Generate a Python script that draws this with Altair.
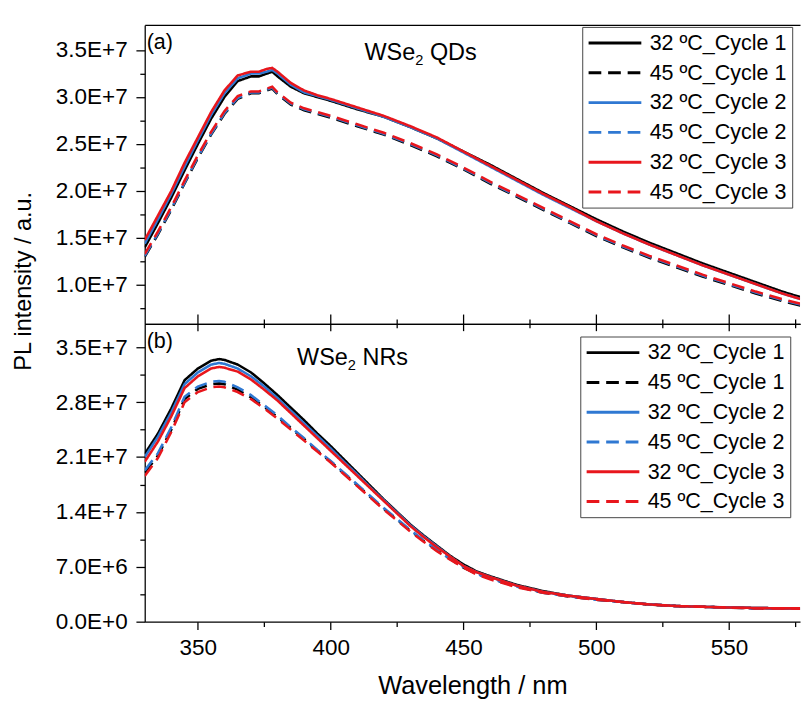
import altair as alt
import pandas as pd

FONT = "Liberation Sans"

# ---------------- data ----------------
series_names = ["32 ºC_Cycle 1", "45 ºC_Cycle 1", "32 ºC_Cycle 2",
                "45 ºC_Cycle 2", "32 ºC_Cycle 3", "45 ºC_Cycle 3"]
series_colors = ["#000000", "#000000", "#2f78d2", "#2f78d2", "#e8161c", "#e8161c"]
series_dashes = [[1, 0], [13, 7], [1, 0], [13, 7], [1, 0], [13, 7]]

panel_labels = ["(a)", "(b)"]
sample_names = [("WSe", "2", "QDs"), ("WSe", "2", "NRs")]
x_title = "Wavelength / nm"
y_title = "PL intensity / a.u."

x_ticks = [350, 375, 400, 425, 450, 475, 500, 525, 550, 575]
x_domain = [330, 576.7]

qd_y_domain = [5.87e6, 3.767e7]
qd_y_ticks = [7.5e6, 1.0e7, 1.25e7, 1.5e7, 1.75e7, 2.0e7, 2.25e7, 2.5e7,
              2.75e7, 3.0e7, 3.25e7, 3.5e7]
nr_y_domain = [0, 3.8e7]
nr_y_ticks = [0, 3.5e6, 7.0e6, 1.05e7, 1.4e7, 1.75e7, 2.1e7, 2.45e7,
              2.8e7, 3.15e7, 3.5e7]

# (a) WSe2 QDs, intensity in units of 1E7
qd_wl = [330, 335, 340, 345, 350, 355, 360, 365, 370, 373, 376, 378, 380, 385,
         390, 395, 400, 410, 420, 430, 440, 450, 460, 470, 480, 490, 500, 510,
         520, 530, 540, 550, 560, 570, 577]
qd_32_c1 = [1.40, 1.66, 1.93, 2.22, 2.50, 2.77, 3.00, 3.17, 3.22, 3.22, 3.25, 3.27, 3.22, 3.11,
            3.04, 3.00, 2.96, 2.87, 2.79, 2.68, 2.56, 2.42, 2.28, 2.13, 1.98, 1.84, 1.70, 1.57,
            1.45, 1.34, 1.23, 1.13, 1.03, 0.93, 0.87]
qd_45_c1 = [1.30, 1.54, 1.80, 2.08, 2.35, 2.60, 2.82, 2.98, 3.04, 3.04, 3.07, 3.09, 3.03, 2.92,
            2.86, 2.82, 2.78, 2.69, 2.60, 2.49, 2.37, 2.23, 2.08, 1.94, 1.80, 1.66, 1.52, 1.40,
            1.29, 1.19, 1.09, 1.00, 0.91, 0.83, 0.78]
qd_32_c2 = [1.44, 1.70, 1.97, 2.26, 2.54, 2.81, 3.04, 3.20, 3.25, 3.25, 3.27, 3.29, 3.25, 3.13,
            3.05, 3.01, 2.97, 2.88, 2.79, 2.68, 2.56, 2.41, 2.26, 2.11, 1.96, 1.82, 1.68, 1.55,
            1.43, 1.32, 1.21, 1.11, 1.01, 0.91, 0.85]
qd_45_c2 = [1.31, 1.55, 1.81, 2.09, 2.36, 2.61, 2.83, 2.99, 3.05, 3.05, 3.08, 3.10, 3.04, 2.93,
            2.87, 2.83, 2.79, 2.70, 2.61, 2.50, 2.38, 2.24, 2.09, 1.95, 1.81, 1.67, 1.53, 1.41,
            1.30, 1.20, 1.10, 1.01, 0.92, 0.84, 0.79]
qd_32_c3 = [1.48, 1.74, 2.00, 2.30, 2.57, 2.84, 3.07, 3.23, 3.27, 3.27, 3.30, 3.31, 3.27, 3.15,
            3.07, 3.02, 2.98, 2.89, 2.80, 2.69, 2.57, 2.42, 2.27, 2.12, 1.97, 1.83, 1.68, 1.55,
            1.43, 1.32, 1.21, 1.11, 1.01, 0.91, 0.85]
qd_45_c3 = [1.33, 1.57, 1.83, 2.11, 2.38, 2.63, 2.85, 3.01, 3.06, 3.06, 3.09, 3.11, 3.05, 2.94,
            2.88, 2.84, 2.80, 2.71, 2.62, 2.51, 2.39, 2.25, 2.10, 1.96, 1.82, 1.68, 1.54, 1.42,
            1.31, 1.21, 1.11, 1.02, 0.93, 0.85, 0.80]

# (b) WSe2 NRs, intensity in units of 1E7
nr_wl = [330, 335, 340, 345, 350, 355, 358, 360, 365, 370, 375, 380, 385, 390, 395, 400,
         405, 410, 415, 420, 425, 430, 435, 440, 445, 450, 455, 460, 470, 480, 490, 500,
         510, 520, 530, 540, 550, 560, 570, 577]
nr_32_c1 = [2.14, 2.40, 2.72, 3.08, 3.23, 3.33, 3.35, 3.34, 3.28, 3.18, 3.04, 2.89, 2.73, 2.57,
            2.40, 2.24, 2.07, 1.90, 1.73, 1.56, 1.40, 1.24, 1.10, 0.97, 0.84, 0.73, 0.64, 0.58,
            0.47, 0.39, 0.33, 0.29, 0.25, 0.22, 0.20, 0.19, 0.18, 0.175, 0.17, 0.17]
nr_45_c1 = [1.90, 2.12, 2.45, 2.84, 2.97, 3.03, 3.04, 3.03, 2.96, 2.86, 2.74, 2.61, 2.47, 2.33,
            2.18, 2.04, 1.89, 1.74, 1.59, 1.44, 1.30, 1.16, 1.03, 0.91, 0.80, 0.69, 0.61, 0.55,
            0.45, 0.37, 0.32, 0.28, 0.25, 0.22, 0.20, 0.19, 0.18, 0.17, 0.17, 0.165]
nr_32_c2 = [2.10, 2.36, 2.67, 3.03, 3.18, 3.28, 3.30, 3.29, 3.23, 3.13, 3.00, 2.85, 2.69, 2.53,
            2.37, 2.21, 2.04, 1.88, 1.71, 1.55, 1.39, 1.23, 1.09, 0.96, 0.83, 0.71, 0.63, 0.57,
            0.46, 0.38, 0.33, 0.29, 0.25, 0.22, 0.20, 0.19, 0.18, 0.175, 0.17, 0.17]
nr_45_c2 = [1.93, 2.15, 2.48, 2.87, 3.00, 3.06, 3.07, 3.06, 2.99, 2.89, 2.76, 2.63, 2.48, 2.34,
            2.19, 2.05, 1.90, 1.75, 1.60, 1.45, 1.31, 1.17, 1.04, 0.92, 0.80, 0.70, 0.61, 0.55,
            0.45, 0.37, 0.32, 0.28, 0.25, 0.22, 0.20, 0.19, 0.18, 0.17, 0.17, 0.165]
nr_32_c3 = [2.04, 2.30, 2.62, 2.98, 3.13, 3.23, 3.25, 3.24, 3.19, 3.09, 2.96, 2.82, 2.66, 2.50,
            2.34, 2.18, 2.02, 1.86, 1.70, 1.54, 1.38, 1.22, 1.08, 0.95, 0.83, 0.71, 0.63, 0.57,
            0.46, 0.38, 0.33, 0.29, 0.25, 0.22, 0.20, 0.19, 0.18, 0.175, 0.17, 0.17]
nr_45_c3 = [1.86, 2.09, 2.42, 2.80, 2.93, 2.99, 3.00, 2.99, 2.93, 2.84, 2.72, 2.59, 2.45, 2.31,
            2.17, 2.03, 1.88, 1.73, 1.58, 1.43, 1.29, 1.15, 1.02, 0.90, 0.79, 0.69, 0.60, 0.54,
            0.44, 0.37, 0.32, 0.28, 0.25, 0.22, 0.20, 0.19, 0.18, 0.17, 0.17, 0.165]

qd_series = [qd_32_c1, qd_45_c1, qd_32_c2, qd_45_c2, qd_32_c3, qd_45_c3]
nr_series = [nr_32_c1, nr_45_c1, nr_32_c2, nr_45_c2, nr_32_c3, nr_45_c3]


def build_table(wl, series):
    rows = []
    for name, vals in zip(series_names, series):
        for w, v in zip(wl, vals):
            rows.append({"wl": w, "val": v * 1e7, "series": name})
    return pd.DataFrame(rows)


qd_df = build_table(qd_wl, qd_series)
nr_df = build_table(nr_wl, nr_series)

# ---------------- helpers ----------------
x_scale = alt.Scale(domain=x_domain, nice=False, zero=False)


def cond(test, major, minor):
    return {"condition": {"test": test, "value": major}, "value": minor}


def sci_expr(step):
    return (f"datum.value % {step} == 0 ? (datum.value == 0 ? '0.0E+0' : "
            "format(datum.value / pow(10, floor(log(datum.value) / LN10 + 1e-9)), '.1f')"
            " + 'E+' + floor(log(datum.value) / LN10 + 1e-9)) : ''")


def x_axis(orient, major, minor, labels, domain_only=False):
    kw = dict(orient=orient, values=x_ticks, title=None, grid=False,
              domainColor="black", domainWidth=1.3, tickColor="black", tickWidth=1.3,
              labelFont=FONT, labelFontSize=23, labelColor="black", labelPadding=8,
              labelExpr="datum.value % 50 == 0 ? datum.label : ''", labelFlush=False)
    if domain_only:
        kw["ticks"] = False
        kw["labels"] = False
    else:
        kw["tickSize"] = cond("datum.value % 50 == 0", major, minor)
        kw["labels"] = labels
    return alt.Axis(**kw)


def legend(lx, ly):
    return alt.Legend(title=None, orient="none", legendX=lx, legendY=ly,
                      symbolType="M-2.7,0H2.7", symbolSize=400, symbolStrokeWidth=3,
                      symbolOffset=17, labelOffset=24, labelFont=FONT, labelFontSize=22,
                      labelColor="black", labelLimit=400, strokeColor="#444444",
                      fillColor="white", padding=5, rowPadding=7.5, cornerRadius=0)


def text_layer(label, x, y, size, align="left", baseline="alphabetic"):
    return alt.Chart(pd.DataFrame({"t": [label]})).mark_text(
        align=align, baseline=baseline, font=FONT, fontSize=size, color="black"
    ).encode(x=alt.value(x), y=alt.value(y), text="t:N")


def panel(df, y_domain, y_ticks, y_step, top_axis, bottom_axis, with_title, idx,
          name_x, name_y, height, lx, ly):
    y_axis_kw = dict(values=y_ticks, grid=False, domainColor="black", domainWidth=1.3,
                     tickColor="black", tickWidth=1.3,
                     tickSize=cond(f"datum.value % {y_step} == 0", 9, 5),
                     labelFont=FONT, labelFontSize=23, labelColor="black",
                     labelPadding=9, labelExpr=sci_expr(y_step))
    if with_title:
        y_axis_kw.update(title=y_title, titleFont=FONT, titleFontSize=24,
                         titleFontWeight="normal", titleColor="black",
                         titleAngle=270, titleBaseline="bottom", titleAlign="center",
                         titleX=-112, titleY=262)
    else:
        y_axis_kw.update(title=None)

    lines = alt.Chart(df).mark_line(strokeWidth=2.6, clip=True).encode(
        x=alt.X("wl:Q", scale=x_scale, axis=bottom_axis),
        y=alt.Y("val:Q", scale=alt.Scale(domain=y_domain, nice=False, zero=False),
                axis=alt.Axis(**y_axis_kw)),
        color=alt.Color("series:N", sort=series_names,
                        scale=alt.Scale(domain=series_names, range=series_colors),
                        legend=legend(lx, ly)),
        strokeDash=alt.StrokeDash("series:N", sort=series_names,
                                  scale=alt.Scale(domain=series_names, range=series_dashes),
                                  legend=legend(lx, ly)),
    )
    helper = alt.Chart(pd.DataFrame({"wl": x_ticks})).mark_rule(opacity=0).encode(
        x=alt.X("wl:Q", scale=x_scale, axis=top_axis)
    )
    s1, s2, s3 = sample_names[idx]
    layers = [
        lines, helper,
        text_layer(panel_labels[idx], 2, 8, 22, baseline="top"),
        text_layer(s1, name_x, name_y, 24),
        text_layer(s2, name_x + 52, name_y + 5, 15),
        text_layer(s3, name_x + 67, name_y, 24),
    ]
    return alt.layer(*layers).resolve_axis(x="independent").properties(
        width=671, height=height)


top = panel(qd_df, qd_y_domain, qd_y_ticks, 5000000,
            top_axis=x_axis("top", 0, 0, False, domain_only=True),
            bottom_axis=x_axis("bottom", 7, 4, False),
            with_title=True, idx=0, name_x=225, name_y=36, height=306, lx=448, ly=2)

bottom = panel(nr_df, nr_y_domain, nr_y_ticks, 7000000,
               top_axis=x_axis("top", 10, 5, False),
               bottom_axis=alt.Axis(
                   orient="bottom", values=x_ticks, title=x_title, grid=False,
                   domainColor="black", domainWidth=1.3, tickColor="black", tickWidth=1.3,
                   tickSize=cond("datum.value % 50 == 0", 8, 5),
                   labelFont=FONT, labelFontSize=23, labelColor="black", labelPadding=8,
                   labelExpr="datum.value % 50 == 0 ? datum.label : ''", labelFlush=False,
                   titleFont=FONT, titleFontSize=26, titleFontWeight="normal",
                   titleColor="black", titlePadding=14),
               with_title=False, idx=1, name_x=156, name_y=42, height=305, lx=446, ly=13)

chart = alt.vconcat(top, bottom, spacing=0, bounds="flush").resolve_scale(
    y="independent", color="independent", strokeDash="independent"
).properties(
    padding={"left": 3, "top": 8, "right": 0, "bottom": 0},
    background="white",
).configure_view(stroke="transparent")

chart.save("out.html", embed_options={"renderer": "svg", "actions": False})
